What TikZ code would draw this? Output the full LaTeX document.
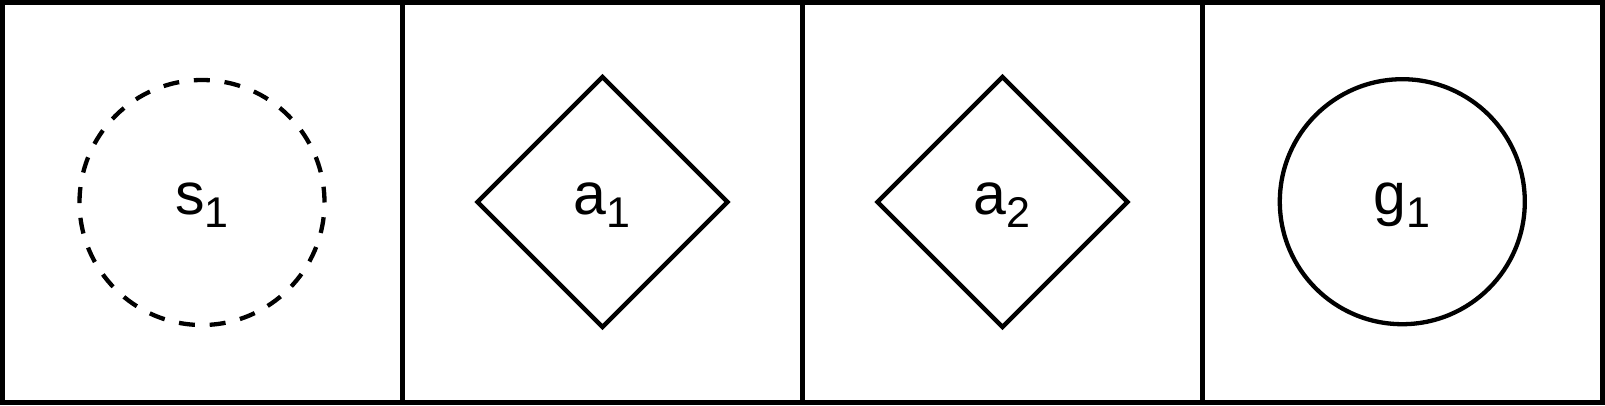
\documentclass[tikz,border=0pt]{standalone}
\usepackage{fontspec}
\setmainfont{Liberation Sans}
\usetikzlibrary{shapes.geometric}
\newcommand{\lab}[2]{#1\raisebox{-13pt}{\fontsize{43}{43}\selectfont #2}}
\begin{document}
\begin{tikzpicture}[x=1pt,y=1pt,
  panel/.style={draw=black,line width=4.5pt,rectangle,minimum width=400pt,minimum height=400pt,inner sep=0pt,outer sep=0pt},
  statec/.style={draw=black,line width=4.3pt,circle,minimum size=245pt,inner sep=0pt,outer sep=0pt},
  dashc/.style={statec,dash pattern=on 16pt off 14.8pt,dash phase=0.2pt},
  actd/.style={draw=black,line width=4.3pt,diamond,minimum width=250pt,minimum height=250pt,inner sep=0pt,outer sep=0pt},
  lbl/.style={anchor=base,inner sep=0pt,font=\fontsize{59}{59}\selectfont}]
\useasboundingbox (0,0) rectangle (1605,405);
\node[panel] (p1) at (202.25,202.5) {};
\node[panel] (p2) at (602.25,202.5) {};
\node[panel] (p3) at (1002.25,202.5) {};
\node[panel] (p4) at (1402.25,202.5) {};
\node[dashc] (s1) at (202,202.5) {};
\node[actd] (a1) at (602.5,203) {};
\node[actd] (a2) at (1002.5,203) {};
\node[statec] (g1) at (1402.3,203.3) {};
\node[lbl] (ts1) at (202,191) {\lab{s}{1}};
\node[lbl] (ta1) at (602,191) {\lab{a}{1}};
\node[lbl] (ta2) at (1002,191) {\lab{a}{2}};
\node[lbl] (tg1) at (1402,191) {\lab{g}{1}};
\end{tikzpicture}
\end{document}
